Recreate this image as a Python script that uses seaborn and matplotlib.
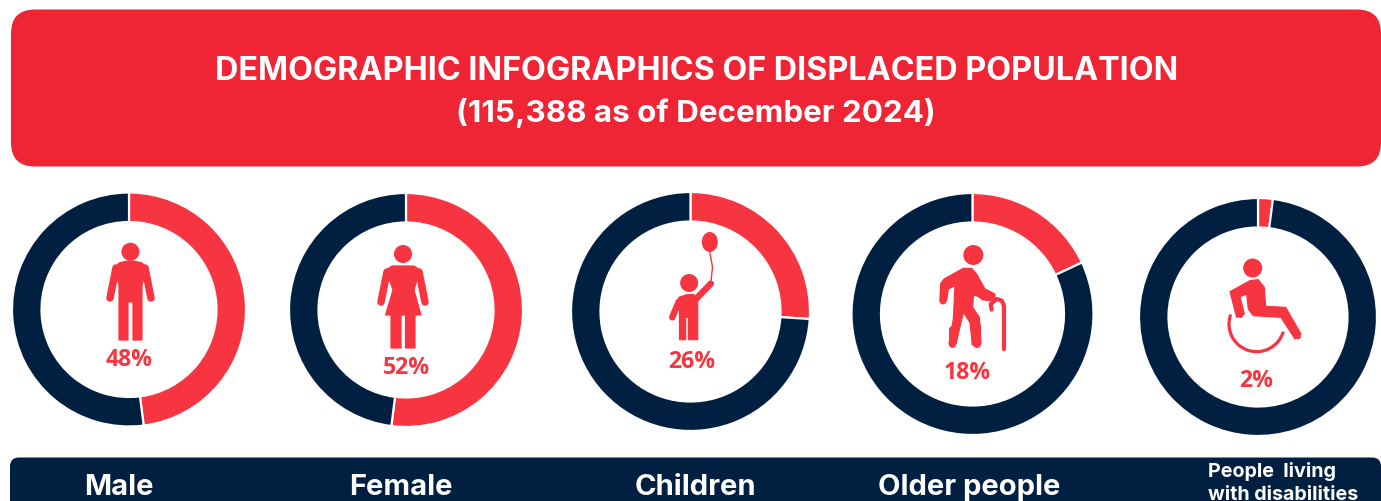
import numpy as np
import matplotlib
matplotlib.use("Agg")
import matplotlib.pyplot as plt
from matplotlib.patches import FancyBboxPatch, Circle, Ellipse, Polygon, Arc
import seaborn as sns

# Values
categories = ["Male", "Female", "Children", "Older people"]
disability_lines = ["People  living", "with disabilities"]
shares = [48, 52, 26, 18, 2]
value_labels = ["48%", "52%", "26%", "18%", "2%"]
title_lines = ["DEMOGRAPHIC INFOGRAPHICS OF DISPLACED POPULATION",
               "(115,388 as of December 2024)"]

# Layout in canvas pixels (origin top left)
W, H = 1381, 502
DPI = 100
ring_centres = [(129, 310.5), (406, 311), (690.5, 312.5), (972.5, 315), (1258, 318)]
ring_radii = [116, 116, 118.5, 120, 118]
ring_width = 27.5
label_centres = [(129, 360), (406, 368), (692, 362), (967, 373), (1256, 381)]
name_centres = [(119, 487.5), (401, 487.5), (695, 487.5), (969, 487.5)]

NAVY = "#011F41"
RED = "#F73541"
HEADER_RED = "#EF2536"

sns.set_theme(style="white", palette=sns.color_palette([RED, NAVY]))
plt.rcParams["font.family"] = ["Inter", "DejaVu Sans"]

fig = plt.figure(figsize=(W / DPI, H / DPI), dpi=DPI, facecolor="white")

# Canvas axes for banners, icons and text
canvas = fig.add_axes([0, 0, 1, 1], zorder=5)
canvas.set_xlim(0, W)
canvas.set_ylim(H, 0)
canvas.axis("off")
canvas.patch.set_alpha(0)


def px(width):
    return width * 72 / DPI


def rounded(x0, y0, x1, y1, radius, colour):
    canvas.add_patch(FancyBboxPatch((x0 + radius, y0 + radius), x1 - x0 - 2 * radius, y1 - y0 - 2 * radius,
                                    boxstyle=f"round,pad={radius},rounding_size={radius}",
                                    fc=colour, ec="none", clip_on=True))


rounded(11, 10.5, 1381, 167.5, 24, HEADER_RED)
rounded(10, 458.5, 1381, 530, 9, NAVY)

canvas.text(696.5, 71.5, title_lines[0], color="white", fontsize=23.25, fontweight="bold", ha="center", va="center")
canvas.text(696, 112.5, title_lines[1], color="white", fontsize=22.6, fontweight="bold", ha="center", va="center")

# One donut per group, red share first, clockwise from twelve o'clock
for (cx, cy), r, share in zip(ring_centres, ring_radii, shares):
    pad = 1.05
    box = [(cx - (r + 1) * pad) / W, 1 - (cy + (r + 1) * pad) / H, 2 * (r + 1) * pad / W, 2 * (r + 1) * pad / H]
    ax = fig.add_axes(box, zorder=6)
    ax.pie([share, 100 - share], startangle=90, counterclock=False, colors=sns.color_palette(),
           radius=1, wedgeprops=dict(width=(ring_width + 2) / (r + 1), edgecolor="white", linewidth=px(2.2)))
    ax.set_xlim(-pad, pad)
    ax.set_ylim(-pad, pad)
    ax.patch.set_alpha(0)

canvas.set_zorder(7)

for text, (x, y) in zip(value_labels, label_centres):
    canvas.text(x, y, text, color=RED, fontsize=16.6, fontweight="bold", ha="center", va="center",
                family="Open Sans")

for text, (x, y) in zip(categories, name_centres):
    canvas.text(x, y, text, color="white", fontsize=21, fontweight="bold", ha="center", va="center")
canvas.text(1208, 472, disability_lines[0], color="white", fontsize=14.2, fontweight="bold", ha="left", va="center")
canvas.text(1208, 500, disability_lines[1], color="white", fontsize=14.2, fontweight="bold", ha="left", va="baseline")


# Icon helpers working on a local grid
def grid(ox, oy, sx, sy):
    return lambda pts: [(ox + x / sx, oy + y / sy) for x, y in pts]


def shape(pts):
    canvas.add_patch(Polygon(pts, closed=True, fc=RED, ec=RED, lw=px(1.2), joinstyle="round"))


def limb(pts, width):
    xs, ys = zip(*pts)
    canvas.plot(xs, ys, color=RED, lw=px(width), solid_capstyle="round", solid_joinstyle="round")


def head(x, y, r):
    canvas.add_patch(Circle((x, y), r, fc=RED, ec="none"))


# Man
head(130.4, 252.7, 9)
shape([(115, 269), (119, 264), (127, 262), (134, 262), (142, 264), (147, 269), (142, 286), (142, 341),
       (133, 341), (133, 303), (128, 303), (128, 341), (119, 341), (119, 286)])
limb([(116, 269), (110, 299)], 7.5)
limb([(145, 269), (151, 299)], 7.5)

# Woman
head(403, 255, 9)
shape([(386, 271), (392, 267), (414, 267), (420, 271), (414, 291), (421, 316), (415, 316), (415, 349),
       (405.5, 349), (405.5, 316), (401, 316), (401, 349), (391, 349), (391, 316), (385.5, 316), (393, 291)])
limb([(387, 273), (381, 303)], 7.5)
limb([(419, 273), (425, 303)], 7.5)

# Child with balloon
child = grid(560, 180, 2.904, 3)
head(*child([(375, 312)])[0], 9)
shape(child([(345, 355), (365, 348), (385, 346), (400, 353), (400, 482), (373, 482), (373, 415), (365, 415),
             (365, 482), (347, 482), (347, 388)]))
limb(child([(345, 368), (326, 415)]), 6.5)
limb(child([(395, 360), (438, 314)]), 6.5)
limb(child([(438, 310), (443, 265), (435, 220)]), 1.4)
canvas.add_patch(Ellipse(child([(435, 189)])[0], 16, 20, fc=RED, ec="none"))

# Older person with cane
elder = grid(920, 240, 3, 3)
head(*elder([(160, 48)])[0], 10)
shape(elder([(62, 135), (72, 120), (130, 88), (155, 88), (170, 105), (195, 150), (225, 165), (225, 185),
             (190, 183), (170, 170), (160, 170), (158, 205), (178, 235), (183, 315), (157, 318), (150, 250),
             (130, 220), (108, 315), (87, 315), (100, 240), (105, 140), (85, 150), (80, 185), (60, 185)]))
limb(elder([(72, 135), (69, 186)]), 7)
limb(elder([(97, 270), (97, 316)]), 7)
limb(elder([(170, 260), (170, 316)]), 8)
limb(elder([(215, 212), (212, 195), (230, 180), (245, 185), (252, 200), (252, 330)]), 4.2)

# Wheelchair user
chair = grid(1215, 250, 3, 3)
head(*chair([(113, 57)])[0], 9.5)
shape(chair([(45, 128), (105, 95), (130, 92), (148, 115), (152, 172), (212, 175), (258, 255), (240, 270),
             (198, 205), (115, 200), (100, 180), (95, 135), (75, 143), (88, 195), (65, 205)]))
limb(chair([(205, 190), (249, 262)]), 6)
limb(chair([(60, 135), (76, 198)]), 6)
canvas.add_patch(Arc(chair([(125, 225)])[0], 2 * 83 / 3, 2 * 83 / 3, theta1=16, theta2=200,
                     color=RED, lw=px(3.2)))

fig.savefig("out.png", dpi=DPI, facecolor="white")
